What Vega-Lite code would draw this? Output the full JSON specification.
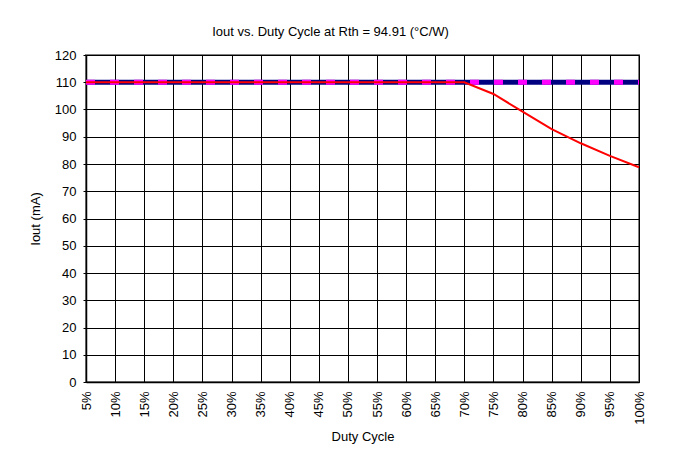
{
  "$schema": "https://vega.github.io/schema/vega-lite/v6.json",
  "autosize": "none",
  "width": 553,
  "height": 327,
  "padding": {"left": 86, "top": 55, "right": 49, "bottom": 82},
  "background": "white",
  "title": {
    "text": "Iout vs. Duty Cycle at Rth = 94.91 (°C/W)",
    "font": "Liberation Sans",
    "fontSize": 13,
    "fontWeight": "normal",
    "color": "#000000",
    "anchor": "middle",
    "dx": -32,
    "offset": 10
  },
  "config": {
    "view": {"stroke": "#808080", "strokeWidth": 2},
    "axis": {
      "labelFont": "Liberation Sans",
      "labelFontSize": 13,
      "labelColor": "#000000",
      "titleFont": "Liberation Sans",
      "titleFontSize": 13,
      "titleFontWeight": "normal",
      "titleColor": "#000000",
      "domainColor": "#000000",
      "domainWidth": 1.5,
      "gridColor": "#000000",
      "gridOpacity": 1,
      "gridWidth": 1,
      "tickColor": "#000000"
    }
  },
  "data": {
    "values": [
      {"duty": 5, "iout": 110, "series": "limit"},
      {"duty": 10, "iout": 110, "series": "limit"},
      {"duty": 15, "iout": 110, "series": "limit"},
      {"duty": 20, "iout": 110, "series": "limit"},
      {"duty": 25, "iout": 110, "series": "limit"},
      {"duty": 30, "iout": 110, "series": "limit"},
      {"duty": 35, "iout": 110, "series": "limit"},
      {"duty": 40, "iout": 110, "series": "limit"},
      {"duty": 45, "iout": 110, "series": "limit"},
      {"duty": 50, "iout": 110, "series": "limit"},
      {"duty": 55, "iout": 110, "series": "limit"},
      {"duty": 60, "iout": 110, "series": "limit"},
      {"duty": 65, "iout": 110, "series": "limit"},
      {"duty": 70, "iout": 110, "series": "limit"},
      {"duty": 75, "iout": 110, "series": "limit"},
      {"duty": 80, "iout": 110, "series": "limit"},
      {"duty": 85, "iout": 110, "series": "limit"},
      {"duty": 90, "iout": 110, "series": "limit"},
      {"duty": 95, "iout": 110, "series": "limit"},
      {"duty": 100, "iout": 110, "series": "limit"},
      {"duty": 5, "iout": 110, "series": "set"},
      {"duty": 10, "iout": 110, "series": "set"},
      {"duty": 15, "iout": 110, "series": "set"},
      {"duty": 20, "iout": 110, "series": "set"},
      {"duty": 25, "iout": 110, "series": "set"},
      {"duty": 30, "iout": 110, "series": "set"},
      {"duty": 35, "iout": 110, "series": "set"},
      {"duty": 40, "iout": 110, "series": "set"},
      {"duty": 45, "iout": 110, "series": "set"},
      {"duty": 50, "iout": 110, "series": "set"},
      {"duty": 55, "iout": 110, "series": "set"},
      {"duty": 60, "iout": 110, "series": "set"},
      {"duty": 65, "iout": 110, "series": "set"},
      {"duty": 70, "iout": 110, "series": "set"},
      {"duty": 75, "iout": 110, "series": "set"},
      {"duty": 80, "iout": 110, "series": "set"},
      {"duty": 85, "iout": 110, "series": "set"},
      {"duty": 90, "iout": 110, "series": "set"},
      {"duty": 95, "iout": 110, "series": "set"},
      {"duty": 100, "iout": 110, "series": "set"},
      {"duty": 5, "iout": 110, "series": "actual"},
      {"duty": 10, "iout": 110, "series": "actual"},
      {"duty": 15, "iout": 110, "series": "actual"},
      {"duty": 20, "iout": 110, "series": "actual"},
      {"duty": 25, "iout": 110, "series": "actual"},
      {"duty": 30, "iout": 110, "series": "actual"},
      {"duty": 35, "iout": 110, "series": "actual"},
      {"duty": 40, "iout": 110, "series": "actual"},
      {"duty": 45, "iout": 110, "series": "actual"},
      {"duty": 50, "iout": 110, "series": "actual"},
      {"duty": 55, "iout": 110, "series": "actual"},
      {"duty": 60, "iout": 110, "series": "actual"},
      {"duty": 65, "iout": 110, "series": "actual"},
      {"duty": 70, "iout": 110, "series": "actual"},
      {"duty": 75, "iout": 105.7, "series": "actual"},
      {"duty": 80, "iout": 99.2, "series": "actual"},
      {"duty": 85, "iout": 92.8, "series": "actual"},
      {"duty": 90, "iout": 87.6, "series": "actual"},
      {"duty": 95, "iout": 83.0, "series": "actual"},
      {"duty": 100, "iout": 78.8, "series": "actual"}
    ]
  },
  "encoding": {
    "x": {
      "field": "duty",
      "type": "quantitative",
      "scale": {"domain": [5, 100], "nice": false, "zero": false},
      "axis": {
        "title": "Duty Cycle",
        "values": [5, 10, 15, 20, 25, 30, 35, 40, 45, 50, 55, 60, 65, 70, 75, 80, 85, 90, 95, 100],
        "labelExpr": "datum.value + '%'",
        "labelAngle": -90,
        "labelAlign": "right",
        "labelBaseline": "middle",
        "labelPadding": 9,
        "ticks": false,
        "grid": true,
        "titlePadding": 6,
        "labelOverlap": false,
        "labelFlush": false
      }
    },
    "y": {
      "field": "iout",
      "type": "quantitative",
      "scale": {"domain": [0, 120], "nice": false},
      "axis": {
        "title": "Iout (mA)",
        "values": [0, 10, 20, 30, 40, 50, 60, 70, 80, 90, 100, 110, 120],
        "tickSize": 3,
        "labelPadding": 7,
        "titlePadding": 12,
        "grid": true,
        "labelOverlap": false,
        "labelFlush": false
      }
    }
  },
  "layer": [
    {
      "transform": [{"filter": "datum.series === 'limit'"}],
      "mark": {"type": "line", "color": "#000080", "strokeWidth": 5}
    },
    {
      "transform": [{"filter": "datum.series === 'set'"}],
      "mark": {"type": "line", "color": "#FF00FF", "strokeWidth": 5, "strokeDash": [9, 15], "strokeCap": "butt"}
    },
    {
      "transform": [{"filter": "datum.series === 'actual'"}],
      "mark": {"type": "line", "color": "#FF0000", "strokeWidth": 2}
    }
  ]
}
